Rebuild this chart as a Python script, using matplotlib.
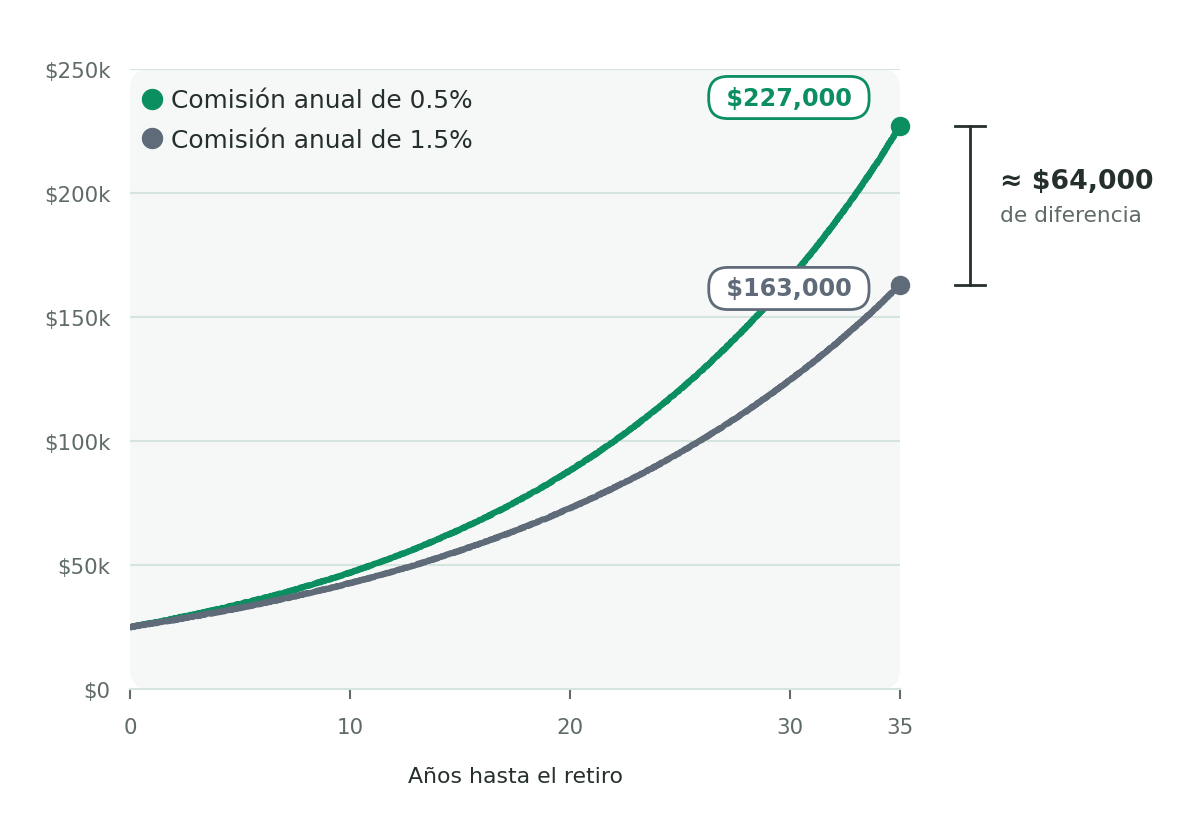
import matplotlib.pyplot as plt
from matplotlib.lines import Line2D
from matplotlib.patches import FancyBboxPatch

# Data (values in thousands of dollars)
years = list(range(0, 36))
low_fee = [25.0, 26.6, 28.4, 30.2, 32.2, 34.3, 36.5, 38.8, 41.4, 44.1,
           46.9, 50.0, 53.2, 56.7, 60.4, 64.3, 68.5, 72.9, 77.7, 82.7,
           88.1, 93.8, 99.9, 106.4, 113.3, 120.7, 128.5, 136.9, 145.8, 155.2,
           165.3, 176.1, 187.5, 199.7, 212.7, 227.0]
high_fee = [25.0, 26.4, 27.8, 29.4, 31.0, 32.7, 34.5, 36.4, 38.4, 40.5,
            42.7, 45.0, 47.5, 50.1, 52.9, 55.8, 58.9, 62.1, 65.5, 69.1,
            72.9, 76.9, 81.2, 85.6, 90.3, 95.3, 100.6, 106.1, 111.9, 118.1,
            124.6, 131.4, 138.6, 146.3, 154.3, 163.0]
series_labels = ['Comisión anual de 0.5%', 'Comisión anual de 1.5%']
end_labels = ['$227,000', '$163,000']
x_ticks = [0, 10, 20, 30, 35]
y_ticks = [0, 50, 100, 150, 200, 250]
y_tick_labels = ['$0', '$50k', '$100k', '$150k', '$200k', '$250k']

green = '#0b8f61'
slate = '#5f6b78'
dark = '#26302b'
muted = '#5f6b68'
grid_col = '#d6e4e0'

plt.rcParams['font.family'] = ['DejaVu Sans']

fig = plt.figure(figsize=(12, 8.2), dpi=100)
ax = fig.add_axes([130 / 1200, 1 - 690 / 820, 770 / 1200, 620 / 820])
ax.set_facecolor('none')

# Rounded panel background
panel = FancyBboxPatch((0, 0), 1, 1, boxstyle='round,pad=0,rounding_size=0.026',
                       mutation_aspect=770 / 620, transform=ax.transAxes,
                       facecolor='#f6f8f7', edgecolor='none', zorder=0,
                       clip_on=False)
ax.add_patch(panel)

ax.set_xlim(0, 35)
ax.set_ylim(0, 250)

# Grid
for v in y_ticks[1:]:
    ax.axhline(v, color=grid_col, linewidth=1.5, zorder=1)

for s in ['top', 'right', 'left']:
    ax.spines[s].set_visible(False)
ax.spines['bottom'].set_color(grid_col)
ax.spines['bottom'].set_linewidth(1.5)

ax.set_xticks(x_ticks)
ax.set_yticks(y_ticks)
ax.set_yticklabels(y_tick_labels)
ax.tick_params(axis='x', length=7, width=1.5, color=muted, labelsize=15.4,
               labelcolor=muted, pad=13)
ax.tick_params(axis='y', length=0, labelsize=15.4, labelcolor=muted, pad=14)
ax.set_xlabel('Años hasta el retiro', fontsize=15.8, color=dark, labelpad=21)

# Lines (slightly rough stroke, like the reference)
l1, = ax.plot(years, low_fee, color=green, linewidth=4.4, solid_capstyle='round', zorder=3)
l2, = ax.plot(years, high_fee, color=slate, linewidth=4.4, solid_capstyle='round', zorder=3)
l1.set_sketch_params(0.45, 2, 2)
l2.set_sketch_params(0.45, 2, 2)
ax.plot(years[-1], low_fee[-1], 'o', color=green, markersize=13, clip_on=False, zorder=4)
ax.plot(years[-1], high_fee[-1], 'o', color=slate, markersize=13, clip_on=False, zorder=4)

# End value labels
ax.text(29.95, 238.5, ' ' + end_labels[0] + ' ', color=green, fontsize=17.2,
        fontweight='bold', ha='center', va='center', zorder=5,
        bbox=dict(boxstyle='round,pad=0.38,rounding_size=0.8', fc='white', ec=green, lw=2))
ax.text(29.95, 161.5, ' ' + end_labels[1] + ' ', color=slate, fontsize=17.2,
        fontweight='bold', ha='center', va='center', zorder=5,
        bbox=dict(boxstyle='round,pad=0.38,rounding_size=0.8', fc='white', ec=slate, lw=2))

# Difference bracket
bx = 38.2
ax.plot([bx, bx], [high_fee[-1], low_fee[-1]], color=dark, lw=2, clip_on=False)
ax.plot([bx - 0.68, bx + 0.68], [low_fee[-1]] * 2, color=dark, lw=2, clip_on=False)
ax.plot([bx - 0.68, bx + 0.68], [high_fee[-1]] * 2, color=dark, lw=2, clip_on=False)
ax.text(39.55, 205, '≈ $64,000', color=dark, fontsize=19.3, fontweight='bold',
        ha='left', va='center')
ax.text(39.55, 191, 'de diferencia', color=muted, fontsize=15.6, ha='left', va='center')

# Legend
handles = [Line2D([], [], marker='o', linestyle='none', color=green, markersize=14.4),
           Line2D([], [], marker='o', linestyle='none', color=slate, markersize=14.4)]
ax.legend(handles, series_labels, loc='upper left', frameon=False, fontsize=17.9,
          labelcolor=dark, handletextpad=0.25, borderaxespad=0.0, labelspacing=0.62,
          handlelength=1.0, bbox_to_anchor=(0.0, 0.985))

fig.savefig('out.png', dpi=100)
